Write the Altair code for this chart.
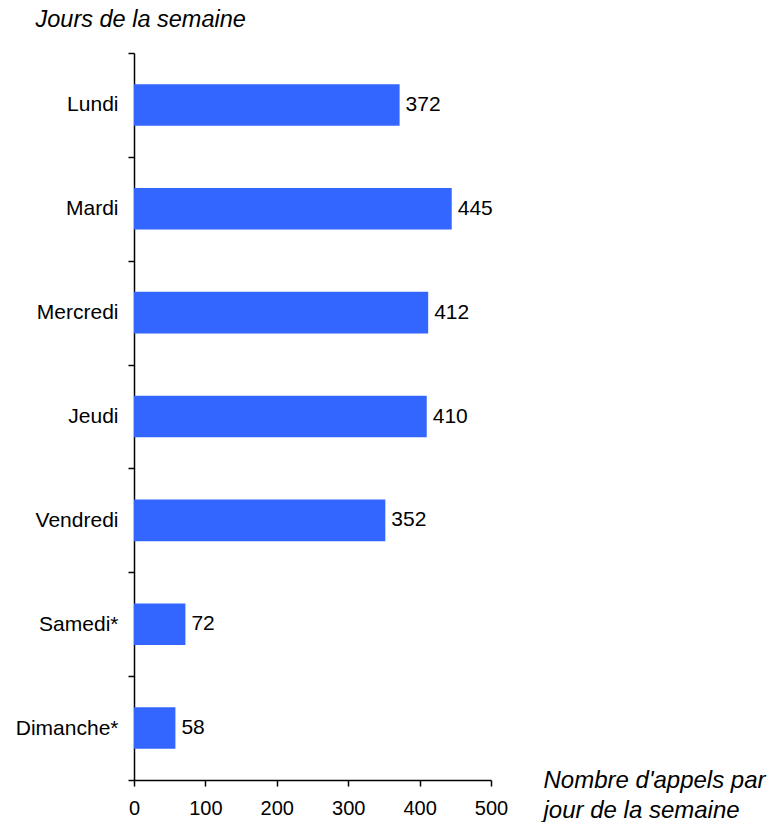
import altair as alt
import pandas as pd

days = ["Lundi", "Mardi", "Mercredi", "Jeudi", "Vendredi", "Samedi*", "Dimanche*"]
calls = [372, 445, 412, 410, 352, 72, 58]

df = pd.DataFrame({"jour": days, "appels": calls})

FONT = "Liberation Sans"

y_enc = alt.Y(
    "jour:N",
    sort=days,
    scale=alt.Scale(paddingInner=0, paddingOuter=0),
    axis=alt.Axis(
        title="Jours de la semaine",
        titleAngle=0,
        titleX=-99,
        titleY=-27,
        titleAlign="left",
        titleBaseline="alphabetic",
        titleFont=FONT,
        titleFontSize=23.5,
        titleFontStyle="italic",
        titleFontWeight="normal",
        titleColor="black",
        labelFont=FONT,
        labelFontSize=21,
        labelColor="black",
        labelPadding=10,
        tickBand="extent",
        tickSize=6,
        tickColor="black",
        tickWidth=1.5,
        domainColor="black",
        domainWidth=1.5,
    ),
)

x_enc = alt.X(
    "appels:Q",
    scale=alt.Scale(domain=[0, 500], nice=False),
    axis=alt.Axis(
        title=["Nombre d'appels par", "jour de la semaine"],
        titleX=409,
        titleY=7,
        titleAlign="left",
        titleBaseline="alphabetic",
        titleFont=FONT,
        titleFontSize=24,
        titleFontStyle="italic",
        titleFontWeight="normal",
        titleColor="black",
        titleLineHeight=30,
        values=[0, 100, 200, 300, 400, 500],
        labelFont=FONT,
        labelFontSize=20,
        labelColor="black",
        labelPadding=12,
        labelFlush=False,
        tickSize=6,
        tickColor="black",
        tickWidth=1.5,
        domainColor="black",
        domainWidth=1.5,
        grid=False,
    ),
)

bars = alt.Chart(df).mark_bar(color="#3366FF", height=alt.RelativeBandSize(0.4)).encode(
    x=x_enc, y=y_enc
)

labels = alt.Chart(df).mark_text(
    align="left", baseline="middle", dx=6, font=FONT, fontSize=21, color="black"
).encode(x="appels:Q", y=alt.Y("jour:N", sort=days), text="appels:Q")

chart = (
    alt.layer(bars, labels)
    .properties(
        width=357,
        height=727,
        autosize=alt.AutoSizeParams(type="none"),
        padding={"left": 126, "top": 45, "right": 284, "bottom": 42},
    )
    .configure_view(stroke=None)
)

chart.save("out.html", embed_options={"renderer": "svg", "actions": False})
